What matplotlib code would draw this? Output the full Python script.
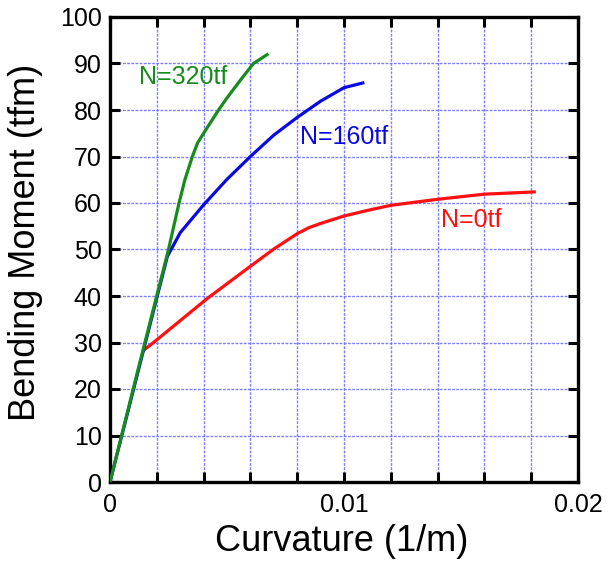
import matplotlib
matplotlib.use("Agg")
import matplotlib.pyplot as plt
import numpy as np

plt.rcParams['font.family'] = ['Liberation Sans', 'DejaVu Sans']

# Data (curvature 1/m, bending moment tfm)
k_320 = [0, 0.0012, 0.0025, 0.00295, 0.0032, 0.00352, 0.00374, 0.004, 0.00464, 0.005, 0.00557, 0.00613, 0.00677]
m_320 = [0, 24.2, 50, 60, 65, 70, 72.9, 75.0, 80, 82.6, 86.4, 90, 92.1]

k_160 = [0, 0.00245, 0.003, 0.004, 0.005, 0.006, 0.007, 0.008, 0.009, 0.01, 0.01087]
m_160 = [0, 48.5, 53.6, 59.6, 65.1, 70, 74.6, 78.4, 81.9, 84.8, 85.9]

k_0 = [0.0014, 0.00186, 0.00414, 0.006, 0.007, 0.008, 0.0085, 0.009, 0.01, 0.011, 0.012, 0.014, 0.016, 0.0182]
m_0 = [28.2, 30, 39.4, 46.4, 50.1, 53.4, 54.7, 55.6, 57.2, 58.4, 59.5, 60.8, 61.9, 62.4]

labels = ["N=320tf", "N=160tf", "N=0tf"]
label_pos = [(0.00312, 87.1), (0.0100, 74.1), (0.01543, 56.3)]

x_ticks = [0, 0.002, 0.004, 0.006, 0.008, 0.01, 0.012, 0.014, 0.016, 0.018, 0.02]
x_ticklabels = ["0", "", "", "", "", "0.01", "", "", "", "", "0.02"]
y_ticks = [0, 10, 20, 30, 40, 50, 60, 70, 80, 90, 100]

fig = plt.figure(figsize=(6.09, 5.63), dpi=100)
ax = fig.add_axes([110/609, 1-482/563, (578-110)/609, (482-17)/563])

red = '#ff1010'
blue = '#0a0ae0'
green = '#168c1c'

ax.plot(k_0, m_0, color=red, lw=2.3, solid_capstyle='butt', solid_joinstyle='round', zorder=3)
ax.plot(k_160, m_160, color=blue, lw=2.3, solid_capstyle='butt', solid_joinstyle='round', zorder=3)
ax.plot(k_320, m_320, color=green, lw=2.3, solid_capstyle='butt', solid_joinstyle='round', zorder=4)

for (txt, (x, y), c) in zip(labels, label_pos, [green, blue, red]):
    ax.text(x, y, txt, color=c, fontsize=18, ha='center', va='center')

ax.set_xlim(0, 0.02)
ax.set_ylim(0, 100)
ax.set_xticks(x_ticks)
ax.set_xticklabels(x_ticklabels)
ax.set_yticks(y_ticks)
ax.set_yticklabels([str(v) for v in y_ticks])

ax.grid(True, color='#7070ff', linestyle=(0, (2, 1)), linewidth=1.0, alpha=0.9)
ax.set_axisbelow(True)

ax.tick_params(direction='in', length=7, width=2.2, top=True, right=True,
               labelsize=18)
ax.tick_params(axis='x', pad=8)
ax.tick_params(axis='y', pad=6)
for s in ax.spines.values():
    s.set_linewidth(2.4)

ax.set_xlabel("Curvature (1/m)", fontsize=26, va='center')
ax.set_ylabel("Bending Moment (tfm)", fontsize=26, va='center')
ax.xaxis.set_label_coords(0.494, -0.127)
ax.yaxis.set_label_coords(-0.18, 0.516)

fig.savefig("out.png", dpi=100)
